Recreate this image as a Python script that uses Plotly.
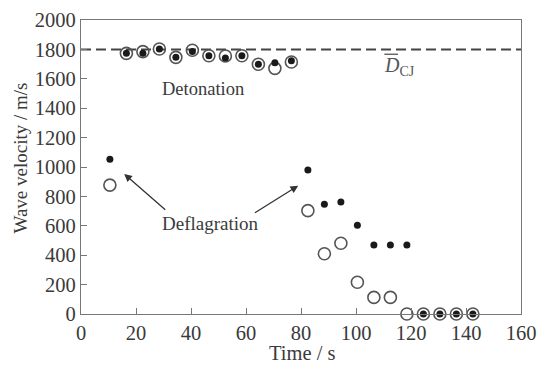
import plotly.graph_objects as go

times = [10.5, 16.5, 22.5, 28.5, 34.5, 40.5, 46.5, 52.5, 58.5, 64.5, 70.5, 76.5,
         82.5, 88.5, 94.5, 100.5, 106.5, 112.5, 118.5, 124.5, 130.5, 136.5, 142.5]
open_v = [877, 1773, 1785, 1803, 1746, 1794, 1757, 1755, 1757, 1699, 1671, 1714,
          703, 410, 481, 216, 113, 113, 0, 0, 0, 0, 0]
filled_v = [1052, 1773, 1773, 1803, 1746, 1785, 1757, 1741, 1757, 1699, 1710, 1723,
            980, 746, 762, 603, 469, 469, 469, 0, 0, 0, 0]
d_cj = 1800
x_ticks = [0, 20, 40, 60, 80, 100, 120, 140, 160]
y_ticks = [0, 200, 400, 600, 800, 1000, 1200, 1400, 1600, 1800, 2000]

FONT = "Liberation Serif"
TXT = "#3a3a3a"
AX = "#777777"

fig = go.Figure()
fig.add_trace(go.Scatter(x=[0, 160], y=[d_cj, d_cj], mode="lines",
                         line=dict(color="#444444", width=2, dash="10px,5px"),
                         hoverinfo="skip", showlegend=False))
fig.add_trace(go.Scatter(x=times, y=open_v, mode="markers", cliponaxis=False,
                         marker=dict(symbol="circle-open", size=12, color="#555555",
                                     line=dict(width=1.6, color="#555555")),
                         showlegend=False))
fig.add_trace(go.Scatter(x=times, y=filled_v, mode="markers", cliponaxis=False,
                         marker=dict(symbol="circle", size=7, color="#1a1a1a"),
                         showlegend=False))

fig.add_annotation(x=44.2, y=1528, text="Detonation", showarrow=False,
                   font=dict(family=FONT, size=18.5, color=TXT))
fig.add_annotation(x=47.1, y=619, text="Deflagration", showarrow=False,
                   font=dict(family=FONT, size=19, color=TXT))
# arrows
fig.add_annotation(x=15.7, y=953, ax=31.2, ay=701, axref="x", ayref="y", text="",
                   showarrow=True, arrowhead=2, arrowsize=1.2, arrowwidth=1.3,
                   arrowcolor="#333333", standoff=0)
fig.add_annotation(x=79, y=873, ax=62.7, ay=682, axref="x", ayref="y", text="",
                   showarrow=True, arrowhead=2, arrowsize=1.2, arrowwidth=1.3,
                   arrowcolor="#333333", standoff=0)
# D_CJ label
fig.add_annotation(x=109.6, y=1685, xanchor="left", text="<i>D</i><sub>CJ</sub>",
                   showarrow=False, font=dict(family=FONT, size=20, color="#555555"))
fig.add_shape(type="line", x0=110.3, x1=115.3, y0=1767, y1=1767,
              line=dict(color="#555555", width=1.3))

# axis titles
fig.add_annotation(xref="paper", yref="paper", x=0.503, y=-0.134, yanchor="middle",
                   text="Time / s", showarrow=False,
                   font=dict(family=FONT, size=20.5, color=TXT))
fig.add_annotation(xref="paper", yref="paper", x=-0.1386, y=0.529, xanchor="center",
                   yanchor="middle", textangle=-90, text="Wave velocity / m/s",
                   showarrow=False, font=dict(family=FONT, size=19, color=TXT))

# page body has an 8px margin: compensate so the plot area lands at 81..521 x 20..314
fig.update_layout(
    width=542, height=361,
    margin=dict(l=73, r=29, t=12, b=55),
    paper_bgcolor="white", plot_bgcolor="white",
    font=dict(family=FONT, size=18, color=TXT),
    xaxis=dict(range=[0, 160], tickvals=x_ticks, ticks="inside", ticklen=6,
               tickcolor=AX, showline=True, linecolor=AX, linewidth=1.3, mirror=True,
               showgrid=False, zeroline=False, automargin=False,
               tickfont=dict(family=FONT, size=20.5, color=TXT)),
    yaxis=dict(range=[0, 2000], tickvals=y_ticks, ticks="inside", ticklen=6,
               tickcolor=AX, showline=True, linecolor=AX, linewidth=1.3, mirror=True,
               showgrid=False, zeroline=False, automargin=False,
               tickfont=dict(family=FONT, size=20.5, color=TXT)),
)

fig.write_html("out.html")
